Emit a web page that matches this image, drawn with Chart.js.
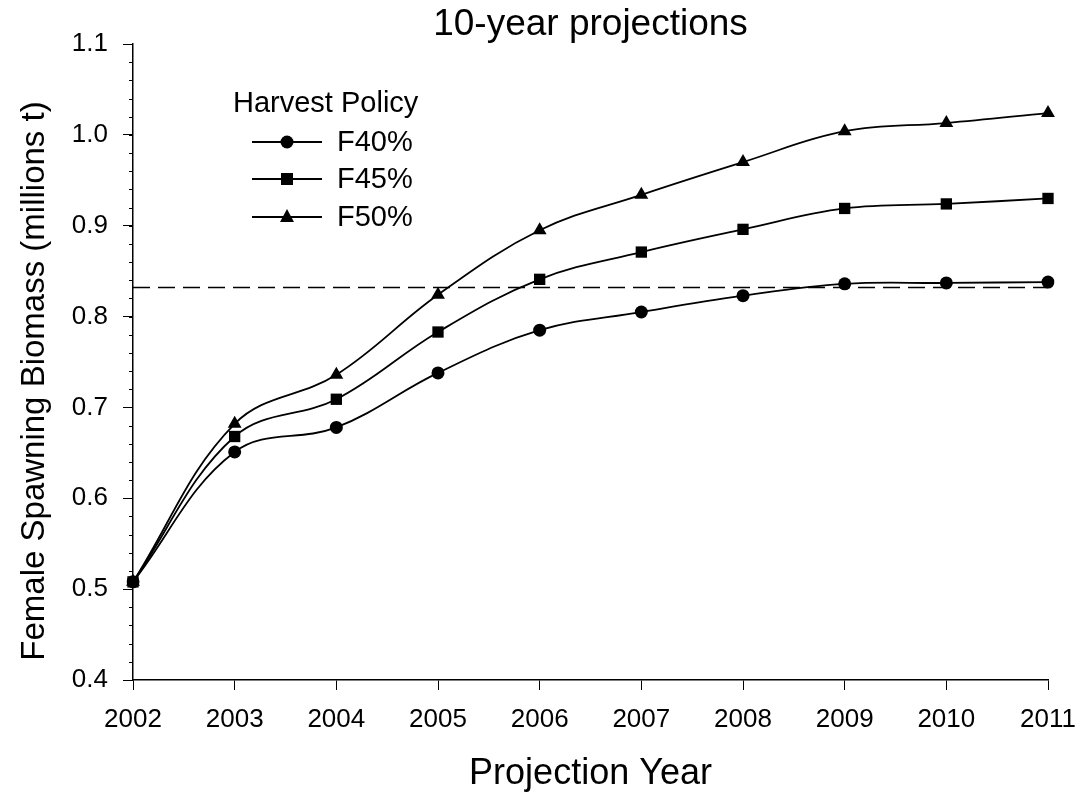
<!DOCTYPE html>
<html>
<head>
<meta charset="utf-8">
<script src="https://cdn.jsdelivr.net/npm/chart.js@4"></script>
<style>
  body { margin: 0; background: #fff; }
  #wrap { width: 1084px; height: 803px; }
</style>
</head>
<body>
<div id="wrap"><canvas id="chart"></canvas></div>
<script>
const years = ["2002", "2003", "2004", "2005", "2006", "2007", "2008", "2009", "2010", "2011"];
const f40 = [0.508, 0.651, 0.678, 0.738, 0.785, 0.805, 0.823, 0.836, 0.837, 0.838];
const f45 = [0.508, 0.668, 0.709, 0.783, 0.841, 0.871, 0.896, 0.919, 0.924, 0.930];
const f50 = [0.508, 0.682, 0.736, 0.824, 0.895, 0.934, 0.970, 1.004, 1.013, 1.024];
const target = 0.832;
const chartTitle = "10-year projections";
const yTitle = "Female Spawning Biomass (millions t)";
const legendTitle = "Harvest Policy";
const legendLabels = ["F40%", "F45%", "F50%"];
const markers = ["circle", "rect", "triangle"];

const FONT = "'Liberation Sans', Arial, sans-serif";

function series(data, style, i) {
  return {
    label: legendLabels[i],
    data: data,
    borderColor: "#000",
    backgroundColor: "#000",
    borderWidth: 1.8,
    tension: 0.38,
    pointStyle: style,
    pointRadius: style === "circle" ? 6.5 : 8,
    pointBorderWidth: 0
  };
}

// title, y title, minor y ticks and the inline legend
const extras = {
  id: "extras",
  afterDraw(chart) {
    const ctx = chart.ctx;
    const y = chart.scales.y;
    const area = chart.chartArea;
    ctx.save();
    ctx.fillStyle = "#000";
    ctx.strokeStyle = "#000";

    // title centred over the plot area
    ctx.font = "37px " + FONT;
    ctx.textAlign = "center";
    ctx.textBaseline = "middle";
    ctx.fillText(chartTitle, (area.left + area.right) / 2, 25);

    // y axis title
    ctx.save();
    ctx.translate(35, 381);
    ctx.rotate(-Math.PI / 2);
    ctx.font = "33px " + FONT;
    ctx.fillText(yTitle, 0, 0);
    ctx.restore();

    // minor ticks every 0.02
    ctx.lineWidth = 1;
    for (let v = 0.40; v <= 1.1001; v += 0.02) {
      const py = Math.round(y.getPixelForValue(v)) + 0.5;
      ctx.beginPath();
      ctx.moveTo(area.left - 4, py);
      ctx.lineTo(area.left, py);
      ctx.stroke();
    }

    // legend
    ctx.textAlign = "left";
    ctx.font = "29px " + FONT;
    ctx.fillText(legendTitle, 233, 104);
    const rows = [142, 179, 217];
    rows.forEach((ry, i) => {
      ctx.lineWidth = 1.8;
      ctx.beginPath();
      ctx.moveTo(252, ry);
      ctx.lineTo(322, ry);
      ctx.stroke();
      ctx.beginPath();
      if (markers[i] === "circle") {
        ctx.arc(287, ry, 6.5, 0, Math.PI * 2);
      } else if (markers[i] === "rect") {
        ctx.rect(281, ry - 6, 12, 12);
      } else {
        ctx.moveTo(287, ry - 8);
        ctx.lineTo(294, ry + 5);
        ctx.lineTo(280, ry + 5);
        ctx.closePath();
      }
      ctx.fill();
      ctx.fillText(legendLabels[i], 337, ry + 1);
    });
    ctx.restore();
  }
};

new Chart(document.getElementById("chart"), {
  type: "line",
  data: {
    labels: years,
    datasets: [
      series(f40, "circle", 0),
      series(f45, "rect", 1),
      series(f50, "triangle", 2),
      {
        label: "target",
        data: years.map(() => target),
        borderColor: "#000",
        borderWidth: 1.3,
        borderDash: [17, 8],
        pointRadius: 0,
        tension: 0
      }
    ]
  },
  options: {
    responsive: true,
    maintainAspectRatio: false,
    animation: false,
    layout: { padding: { left: 8, right: 0, top: 44, bottom: 7 } },
    plugins: {
      legend: { display: false },
      tooltip: { enabled: false },
      title: { display: false }
    },
    scales: {
      x: {
        type: "category",
        offset: false,
        grid: { drawOnChartArea: false, tickLength: 10, color: "#000" },
        border: { color: "#000", width: 1.5 },
        ticks: { color: "#000", font: { family: FONT, size: 26 }, maxRotation: 0, padding: 14 },
        title: {
          display: true,
          text: "Projection Year",
          color: "#000",
          font: { family: FONT, size: 36 },
          padding: { top: 0, bottom: 0 }
        },
        afterFit: s => { s.height = 116; s.paddingRight = 36; }
      },
      y: {
        min: 0.4,
        max: 1.1,
        grid: { drawOnChartArea: false, tickLength: 10, color: "#000" },
        border: { color: "#000", width: 1.5 },
        ticks: {
          stepSize: 0.1,
          color: "#000",
          font: { family: FONT, size: 26 },
          padding: 15,
          callback: v => v.toFixed(1)
        },
        afterFit: s => { s.width = 125; }
      }
    }
  },
  plugins: [extras]
});
</script>
</body>
</html>
